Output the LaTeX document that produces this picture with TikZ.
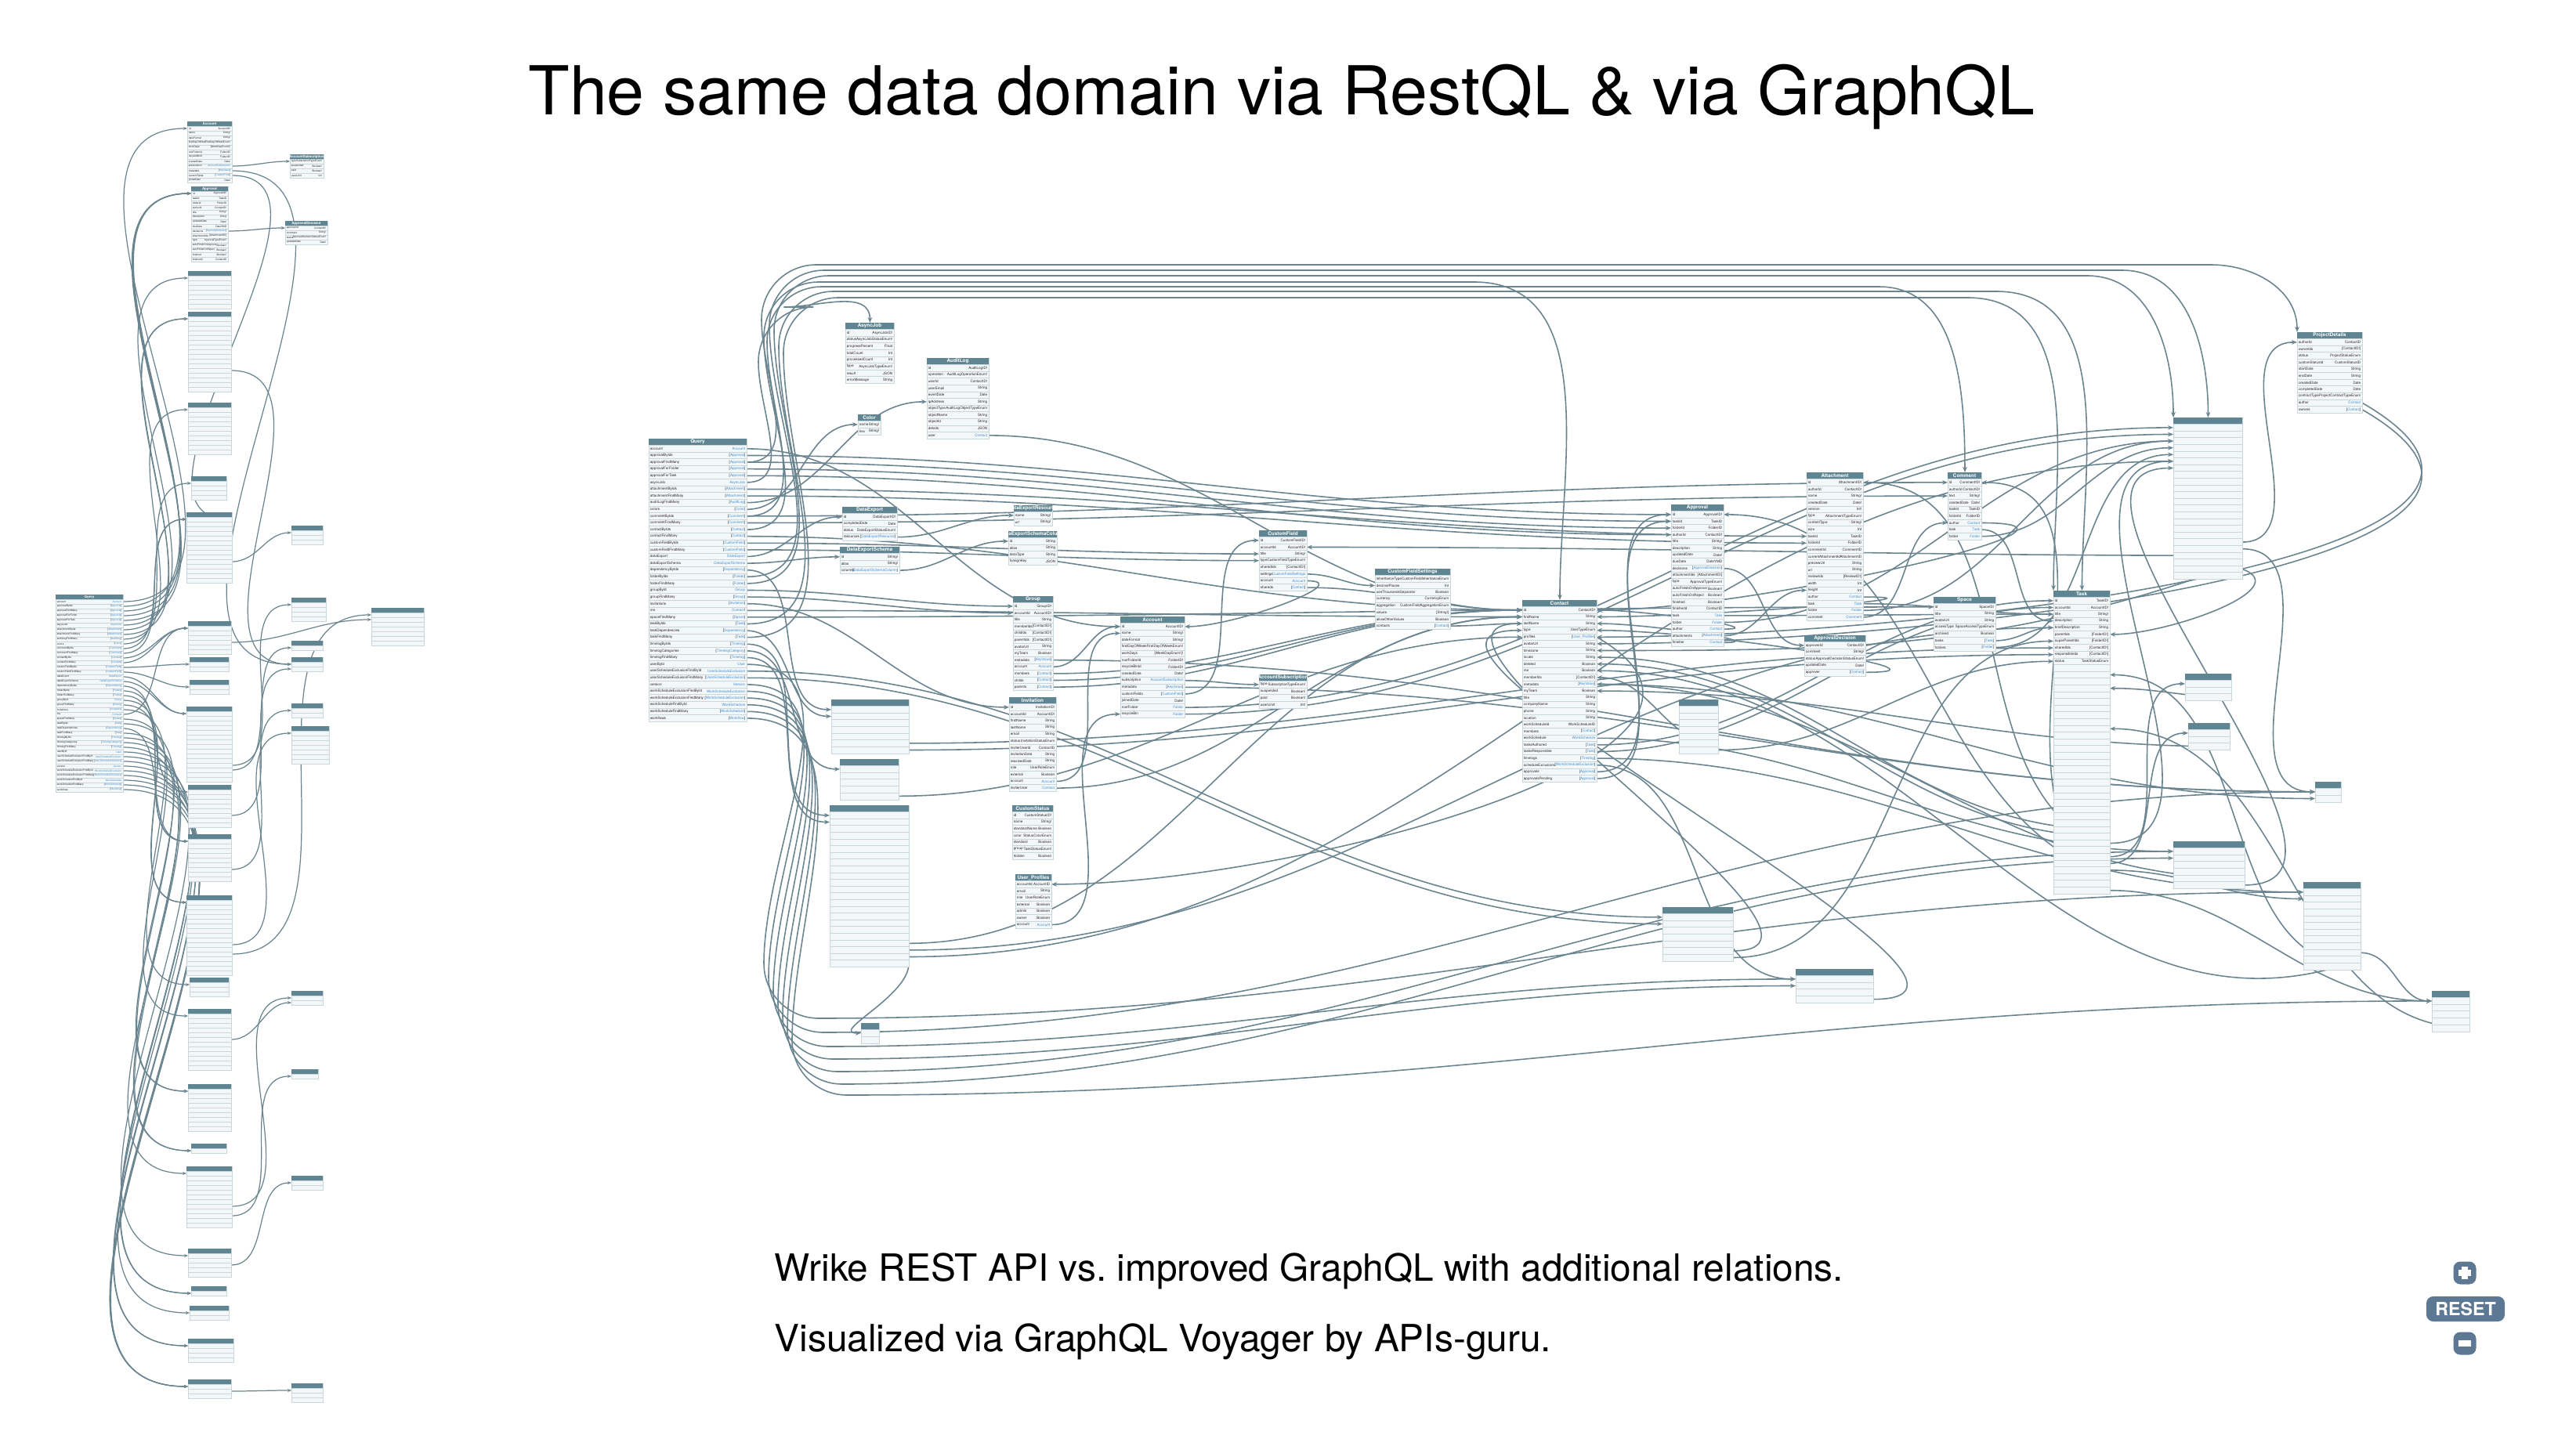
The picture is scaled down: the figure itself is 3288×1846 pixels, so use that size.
\documentclass[tikz,border=0pt]{standalone}
\usepackage{fontspec}
\setmainfont{TeX Gyre Heros}
\usetikzlibrary{calc,arrows.meta}

\definecolor{headfill}{HTML}{5F8592}
\definecolor{rowfill}{HTML}{F4F7F8}
\definecolor{rowline}{HTML}{C9D6DB}
\definecolor{edgecol}{HTML}{6A8590}
\definecolor{linkblue}{HTML}{3E8ED4}
\definecolor{btnfill}{HTML}{5D7893}

\pgfdeclarelayer{edges}
\pgfsetlayers{edges,main}

\tikzset{
  tblbox/.style={draw=rowline, fill=rowfill, line width=0.25pt, inner sep=0pt, anchor=north west},
  rowsep/.style={draw=rowline, line width=0.2pt},
  headtxt/.style={inner sep=0pt, text=white, font=\fontsize{\hs}{\hs}\selectfont\bfseries},
  fld/.style={inner sep=0pt, text=black!85, font=\fontsize{\fs}{\fs}\selectfont},
  rel/.style={draw=edgecol, line width=0.45pt, -{Stealth[length=2pt,width=1.6pt]}},
  relsm/.style={draw=edgecol, line width=0.35pt, -{Stealth[length=1.4pt,width=1.1pt]}},
  bigtitle/.style={font=\fontsize{24.5}{28}\selectfont},
  note/.style={font=\fontsize{13.6}{16}\selectfont, anchor=west, inner sep=0pt},
  btn/.style={fill=btnfill, rounded corners=2.5pt, inner sep=0pt},
  btnmark/.style={draw=white, line width=2.2pt},
}

\newcommand\lk[1]{\textcolor{linkblue}{#1}}

% frame of a type box: name, x, y, width, rows, title
\newcommand\dbframe[6]{%
  \pgfmathsetmacro\tbh{(#5+1)*\rh}
  \node[tblbox, minimum width=#4*0.01cm, minimum height=\tbh*0.01cm] (#1) at (#2,#3) {};
  \fill[headfill] (#1.north west) rectangle ++(#4,\rh);
  \node[headtxt] at ($(#1.north west)+(#4/2,\rh/2)$) {#6};
  \foreach \i in {1,...,#5} {
    \draw[rowsep] ($(#1.north west)+(0,\i*\rh)$) -- ++(#4,0);
    \coordinate (#1-e\i) at ($(#1.north west)+(#4,\i*\rh+\rh/2)$);
    \coordinate (#1-w\i) at ($(#1.north west)+(0,\i*\rh+\rh/2)$);
  }
}
% type box with fields
\newcommand\dbtable[7]{%
  \dbframe{#1}{#2}{#3}{#4}{#5}{#6}
  \expandafter\def\expandafter\fieldlist\expandafter{#7}
  \foreach \fa/\ty [count=\i] in \fieldlist {
    \node[fld, anchor=west] at ($(#1.north west)+(1.2,\i*\rh+\rh/2)$) {\fa};
    \node[fld, anchor=east] at ($(#1.north west)+(#4-1.2,\i*\rh+\rh/2)$) {\ty};
  }
}
% edge that climbs to the top corridor
\newcommand\overtop[4]{%
  \coordinate (drop) at ($(#2)+(-110,0)$);
  \draw[rel] (#1) to[out=0,in=-90] (#4,#3+70) to[out=90,in=180] (#4+70,#3) -- (drop |- 0,#3) to[out=0,in=90] (#2);
}
% edge that drops to the bottom corridor
\newcommand\underbot[4]{%
  \draw[rel] (#1) to[out=0,in=90] (#4,#3-70) to[out=-90,in=180] (#4+70,#3) to[out=0,in=180] (#2);
}

\newcommand\querylist{account/\lk{Account},
approvalByIds/[\lk{Approval}],
approvalFindMany/[\lk{Approval}],
approvalForFolder/[\lk{Approval}],
approvalForTask/[\lk{Approval}],
asyncJob/\lk{AsyncJob},
attachmentByIds/[\lk{Attachment}],
attachmentFindMany/[\lk{Attachment}],
auditLogFindMany/[\lk{AuditLog}],
colors/[\lk{Color}],
commentByIds/[\lk{Comment}],
commentFindMany/[\lk{Comment}],
contactByIds/[\lk{Contact}],
contactFindMany/[\lk{Contact}],
customFieldByIds/[\lk{CustomField}],
customFieldFindMany/[\lk{CustomField}],
dataExport/\lk{DataExport},
dataExportSchema/\lk{DataExportSchema},
dependencyByIds/[\lk{Dependency}],
folderByIds/[\lk{Folder}],
folderFindMany/[\lk{Folder}],
groupById/\lk{Group},
groupFindMany/[\lk{Group}],
invitations/[\lk{Invitation}],
me/\lk{Contact}!,
spaceFindMany/[\lk{Space}],
taskByIds/[\lk{Task}],
taskDependencies/[\lk{Dependency}],
taskFindMany/[\lk{Task}],
timelogByIds/[\lk{Timelog}],
timelogCategories/[\lk{TimelogCategory}],
timelogFindMany/[\lk{Timelog}],
userById/\lk{User},
userScheduleExclusionFindById/\lk{UserScheduleExclusion},
userScheduleExclusionFindMany/[\lk{UserScheduleExclusion}],
version/\lk{Version},
workScheduleExclusionFindById/\lk{WorkScheduleExclusion},
workScheduleExclusionFindMany/[\lk{WorkScheduleExclusion}],
workScheduleFindById/\lk{WorkSchedule},
workScheduleFindMany/[\lk{WorkSchedule}],
workflows/[\lk{Workflow}]}

\begin{document}
\begin{tikzpicture}[x=0.01cm,y=-0.01cm]
\useasboundingbox (0,0) rectangle (3288,1846);

\node[bigtitle] (title) at (1636,124) {The same data domain via RestQL \& via GraphQL};
\node[note] (note1) at (988,1623) {Wrike REST API vs.\ improved GraphQL with additional relations.};
\node[note] (note2) at (988,1713) {Visualized via GraphQL Voyager by APIs-guru.};

% zoom controls
\node[btn, minimum width=0.29cm, minimum height=0.29cm] (zoomin) at (3146,1625) {};
\draw[btnmark] ($(zoomin.center)+(-8,0)$) -- ($(zoomin.center)+(8,0)$);
\draw[btnmark] ($(zoomin.center)+(0,-8)$) -- ($(zoomin.center)+(0,8)$);
\node[btn, minimum width=1.0cm, minimum height=0.32cm, text=white, font=\fontsize{6.6}{7}\selectfont\bfseries] (reset) at (3147,1671) {RESET};
\node[btn, minimum width=0.29cm, minimum height=0.29cm] (zoomout) at (3146,1715) {};
\draw[btnmark] ($(zoomout.center)+(-8,0)$) -- ($(zoomout.center)+(8,0)$);

%% GraphQL side
\def\rh{8.6}\def\fs{1.3}\def\hs{1.8}
\dbtable{q}{828}{560}{125}{41}{Query}{\querylist}
\dbtable{ajob}{1079}{412}{62}{8}{AsyncJob}{id/AsyncJobID!,status/AsyncJobStatusEnum!,progressPercent/Float,totalCount/Int,processedCount/Int,type/AsyncJobTypeEnum!,result/JSON,errorMessage/String}
\dbtable{alog}{1183}{457}{79}{11}{AuditLog}{id/AuditLogID!,operation/AuditLogOperationEnum!,userId/ContactID!,userEmail/String,eventDate/Date,ipAddress/String,objectType/AuditLogObjectTypeEnum,objectName/String,objectId/String,details/JSON,user/\lk{Contact}}
\dbtable{color}{1095}{529}{29}{2}{Color}{name/String!,hex/String!}
\dbtable{dexp}{1075}{647}{70}{4}{DataExport}{id/DataExportID!,completedDate/Date,status/DataExportStatusEnum!,resources/[\lk{DataExportResource}]}
\dbtable{dexs}{1072}{698}{76}{3}{DataExportSchema}{id/String!,alias/String!,columns/[\lk{DataExportSchemaColumn}]}
\dbtable{dres}{1294}{645}{49}{2}{DataExportResource}{name/String!,url/String!}
\dbtable{dcol}{1287}{678}{62}{4}{DataExportSchemaColumn}{id/String,alias/String,dataType/String,foreignKey/JSON}
\dbtable{grp}{1293}{761}{51}{13}{Group}{id/GroupID!,accountId/AccountID!,title/String,memberIds/[ContactID!],childIds/[ContactID!],parentIds/[ContactID!],avatarUrl/String,myTeam/Boolean,metadata/[\lk{KeyValue}],account/\lk{Account},members/[\lk{Contact}],childs/[\lk{Contact}],parents/[\lk{Contact}]}
\dbtable{inv}{1288}{890}{60}{13}{Invitation}{id/InvitationID!,accountId/AccountID!,firstName/String,lastName/String,email/String,status/InvitationStatusEnum,inviterUserId/ContactID,invitationDate/String,resolvedDate/String,role/UserRoleEnum,external/Boolean,account/\lk{Account},inviterUser/\lk{Contact}}
\dbtable{cst}{1292}{1028}{52}{7}{CustomStatus}{id/CustomStatusID!,name/String!,standardName/Boolean,color/StatusColorEnum,standard/Boolean,group/TaskStatusEnum!,hidden/Boolean}
\dbtable{uprof}{1296}{1116}{46}{7}{User\_Profiles}{accountId/AccountID,email/String,role/UserRoleEnum,external/Boolean,admin/Boolean,owner/Boolean,account/\lk{Account}}
\dbtable{acc}{1430}{787}{82}{14}{Account}{id/AccountID!,name/String!,dateFormat/String!,firstDayOfWeek/FirstDayOfWeekEnum!,workDays/[WeekDayEnum!]!,rootFolderId/FolderID!,recycleBinId/FolderID!,createdDate/Date!,subscription/\lk{AccountSubscription},metadata/[\lk{KeyValue}],customFields/[\lk{CustomField}],joinedDate/Date!,rootFolder/\lk{Folder},recycleBin/\lk{Folder}}
\dbtable{cf}{1607}{677}{61}{8}{CustomField}{id/CustomFieldID!,accountId/AccountID!,title/String!,type/CustomFieldTypeEnum!,sharedIds/[ContactID!],settings/\lk{CustomFieldSettings},account/\lk{Account},shareds/[\lk{Contact}]}
\dbtable{asub}{1607}{861}{61}{4}{AccountSubscription}{type/SubscriptionTypeEnum!,suspended/Boolean!,paid/Boolean!,userLimit/Int!}
\dbtable{cfs}{1755}{726}{96}{8}{CustomFieldSettings}{inheritanceType/CustomFieldInheritanceEnum,decimalPlaces/Int,useThousandsSeparator/Boolean,currency/CurrencyEnum,aggregation/CustomFieldAggregationEnum,values/[String!],allowOtherValues/Boolean,contacts/[\lk{Contact}]}
\dbtable{ct}{1943}{766}{95}{26}{Contact}{id/ContactID!,firstName/String,lastName/String,type/UserTypeEnum,profiles/[\lk{User\_Profiles}],avatarUrl/String,timezone/String,locale/String,deleted/Boolean,me/Boolean,memberIds/[ContactID!],metadata/[\lk{KeyValue}],myTeam/Boolean,title/String,companyName/String,phone/String,location/String,workScheduleId/WorkScheduleID,members/[\lk{Contact}],workSchedule/\lk{WorkSchedule},tasksAuthored/[\lk{Task}],tasksResponsible/[\lk{Task}],timelogs/[\lk{Timelog}],scheduleExclusions/[\lk{WorkScheduleExclusion}],approvals/[\lk{Approval}],approvalsPending/[\lk{Approval}]}
\dbtable{appr}{2133}{644}{67}{20}{Approval}{id/ApprovalID!,taskId/TaskID,folderId/FolderID,authorId/ContactID!,title/String!,description/String,updatedDate/Date!,dueDate/DateYMD,decisions/[\lk{ApprovalDecision}],attachmentIds/[AttachmentID!],type/ApprovalTypeEnum!,autoFinishOnApprove/Boolean!,autoFinishOnReject/Boolean!,finished/Boolean!,finisherId/ContactID,task/\lk{Task},folder/\lk{Folder},author/\lk{Contact},attachments/[\lk{Attachment}],finisher/\lk{Contact}}
\dbtable{att}{2306}{603}{72}{21}{Attachment}{id/AttachmentID!,authorId/ContactID!,name/String!,createdDate/Date!,version/Int!,type/AttachmentTypeEnum!,contentType/String!,size/Int,taskId/TaskID,folderId/FolderID,commentId/CommentID,currentAttachmentId/AttachmentID,previewUrl/String,url/String,reviewIds/[ReviewID!],width/Int,height/Int,author/\lk{Contact},task/\lk{Task},folder/\lk{Folder},comment/\lk{Comment}}
\dbtable{adec}{2303}{811}{78}{5}{ApprovalDecision}{approverId/ContactID!,comment/String!,status/ApprovalDecisionStatusEnum!,updatedDate/Date!,approver/[\lk{Contact}]}
\dbtable{cmt}{2486}{603}{43}{9}{Comment}{id/CommentID!,authorId/ContactID!,text/String!,createdDate/Date!,taskId/TaskID,folderId/FolderID,author/\lk{Contact},task/\lk{Task},folder/\lk{Folder}}
\dbtable{spc}{2468}{762}{79}{7}{Space}{id/SpaceID!,title/String,avatarUrl/String,accessType/SpaceAccessTypeEnum,archived/Boolean,tasks/[\lk{Task}],folders/[\lk{Folder}]}
\dbtable{task}{2621}{754}{72}{44}{Task}{id/TaskID!,accountId/AccountID!,title/String!,description/String,briefDescription/String,parentIds/[FolderID!],superParentIds/[FolderID!],sharedIds/[ContactID!],responsibleIds/[ContactID!],status/TaskStatusEnum}
\dbtable{proj}{2932}{424}{83}{11}{ProjectDetails}{authorId/ContactID,ownerIds/[ContactID!],status/ProjectStatusEnum,customStatusId/CustomStatusID,startDate/String,endDate/String,createdDate/Date,completedDate/Date,contractType/ProjectContractTypeEnum,author/\lk{Contact},owners/[\lk{Contact}]}
\dbframe{tA}{1061}{893}{99}{7}{}
\dbframe{tB}{1072}{969}{75}{5}{}
\dbframe{tC}{1059}{1028}{101}{23}{}
\dbframe{tD}{1099}{1306}{23}{2}{}
\dbframe{tE}{2143}{893}{50}{7}{}
\dbframe{tF}{2122}{1158}{90}{7}{}
\dbframe{tG}{2292}{1237}{99}{4}{}
\dbframe{fold}{2774}{533}{88}{23}{}
\dbframe{tH}{2774}{1074}{91}{6}{}
\dbframe{tI}{2789}{860}{59}{3}{}
\dbframe{tJ}{2793}{923}{53}{3}{}
\dbframe{tK}{2955}{998}{33}{2}{}
\dbframe{tL}{2940}{1126}{73}{12}{}
\dbframe{tM}{3104}{1265}{48}{5}{}

%% REST side
\def\rh{6}\def\fs{0.9}\def\hs{1.25}
\dbtable{lq}{71}{759}{86}{41}{Query}{\querylist}
\dbtable{la1}{239}{155}{57}{12}{Account}{id/AccountID!,name/String!,dateFormat/String!,firstDayOfWeek/FirstDayOfWeekEnum!,workDays/[WeekDayEnum!]!,rootFolderId/FolderID!,recycleBinId/FolderID!,createdDate/Date!,subscription/\lk{AccountSubscription},metadata/[\lk{KeyValue}],customFields/[\lk{CustomField}],joinedDate/Date!}
\dbtable{la2}{244}{238}{47}{15}{Approval}{id/ApprovalID!,taskId/TaskID,folderId/FolderID,authorId/ContactID!,title/String!,description/String,updatedDate/Date!,dueDate/DateYMD,decisions/[\lk{ApprovalDecision}],attachmentIds/[AttachmentID!],type/ApprovalTypeEnum!,autoFinishOnApprove/Boolean!,autoFinishOnReject/Boolean!,finished/Boolean!,finisherId/ContactID}
\dbframe{la3}{240}{346}{55}{7}{}
\dbframe{la4}{240}{398}{55}{16}{}
\dbframe{la5}{240}{514}{55}{10}{}
\dbframe{la6}{244}{608}{45}{4}{}
\dbframe{la7}{238}{654}{58}{14}{}
\dbframe{la8}{240}{793}{55}{6}{}
\dbframe{la9}{242}{839}{50}{2}{}
\dbframe{la10}{242}{868}{50}{2}{}
\dbframe{la11}{238}{902}{58}{15}{}
\dbframe{la12}{240}{1002}{55}{8}{}
\dbframe{la13}{240}{1065}{55}{9}{}
\dbframe{la14}{238}{1143}{58}{16}{}
\dbframe{la15}{242}{1248}{50}{3}{}
\dbframe{la16}{240}{1288}{55}{12}{}
\dbframe{la17}{240}{1384}{55}{9}{}
\dbframe{la18}{244}{1460}{45}{1}{}
\dbframe{la19}{238}{1489}{58}{12}{}
\dbframe{la20}{240}{1594}{55}{5}{}
\dbframe{la21}{244}{1642}{45}{1}{}
\dbframe{la22}{242}{1667}{50}{2}{}
\dbframe{la23}{240}{1709}{58}{4}{}
\dbframe{la24}{240}{1761}{55}{3}{}
\dbtable{b1}{370}{197}{43}{4}{AccountSubscription}{type/SubscriptionTypeEnum!,suspended/Boolean!,paid/Boolean!,userLimit/Int!}
\dbtable{b2}{364}{282}{54}{4}{ApprovalDecision}{approverId/ContactID!,comment/String!,status/ApprovalDecisionStatusEnum!,updatedDate/Date!}
\dbframe{b3}{372}{671}{40}{3}{}
\dbframe{b4}{372}{763}{44}{4}{}
\dbframe{b5}{372}{818}{40}{1}{}
\dbframe{b6}{372}{839}{40}{2}{}
\dbframe{b7}{372}{898}{40}{2}{}
\dbframe{b8}{372}{927}{48}{7}{}
\dbframe{b9}{372}{1265}{40}{2}{}
\dbframe{b10}{372}{1365}{34}{1}{}
\dbframe{b11}{372}{1501}{40}{2}{}
\dbframe{b12}{372}{1766}{40}{3}{}
\dbframe{b13}{474}{776}{67}{7}{}

\begin{pgfonlayer}{edges}
\fill[white] (0,0) rectangle (3288,1846);
% REST: query to types
\foreach \j [count=\i] in {1,2,2,2,2,3,4,4,5,6,7,7,8,8,9,10,11,11,12,13,13,14,14,15,8,16,17,13,17,18,19,18,20,21,21,22,23,23,24,24,24}
  \draw[relsm] (lq-e\i) to[out=0,in=180] (la\j-w1);
% REST: nested types
\foreach \s/\d in {la1-e9/b1-w1,la1-e10/b6-w1,la1-e11/la7-e1,la2-e9/b2-w1,la7-e10/b3-w1,la11-e12/b4-w1,la11-e13/b5-w1,
  la12-e6/b6-w2,la13-e7/b7-w1,la14-e10/b8-w1,la14-e12/b13-w1,la19-e8/b9-w1,la19-e10/b10-w1,la20-e3/b11-w1,
  la24-e2/b12-w1,la8-e4/b13-w2,la16-e6/b9-w2,la4-e12/b6-w1}
  \draw[relsm] (\s) to[out=0,in=180] (\d);

% GraphQL: query to types
\foreach \s/\d in {q-e1/acc-w1,q-e2/appr-w1,q-e3/appr-w2,q-e4/appr-w3,q-e5/appr-w4,q-e7/att-w9,
  q-e8/att-w10,q-e9/alog-w6,q-e10/color-w1,q-e11/cmt-w1,q-e12/cmt-w3,q-e14/ct-w1,q-e15/cf-w3,q-e16/cf-w4,
  q-e17/dexp-w1,q-e18/dexs-w1,q-e19/tA-w1,q-e22/grp-w1,q-e23/grp-w2,q-e24/inv-w1,q-e25/ct-w2,q-e26/spc-w1,
  q-e28/tA-w2,q-e30/tC-w1,q-e31/tB-w1,q-e32/tC-w2,q-e34/tF-w1,q-e35/tF-w2}
  \draw[rel] (\s) to[out=0,in=180] (\d);
\overtop{q-e13}{ct.north}{360}{975}
\overtop{q-e20}{fold.north}{345}{982}
\overtop{q-e21}{fold.north west}{352}{988}
\overtop{q-e27}{task.north}{372}{994}
\overtop{q-e29}{task.north west}{380}{1000}
\overtop{q-e6}{ajob.north}{392}{968}
\overtop{q-e3}{proj.north west}{338}{972}
\overtop{q-e11}{cmt.north}{366}{979}
\underbot{q-e33}{tL-w1}{1300}{975}
\underbot{q-e36}{tK-w1}{1318}{981}
\underbot{q-e37}{tG-w1}{1336}{987}
\underbot{q-e38}{tG-w2}{1352}{993}
\underbot{q-e39}{tH-w1}{1368}{999}
\underbot{q-e40}{tH-w2}{1384}{1005}
\underbot{q-e41}{tM-w1}{1398}{1011}

% GraphQL: relations between types
\foreach \s/\d/\o/\n in {alog-e11/ct-w1/0/180,dexp-e4/dres-w1/0/180,dexs-e3/dcol-w1/0/180,
  grp-e9/tK-w1/0/180,grp-e10/acc-w1/0/180,grp-e11/ct-w1/0/180,grp-e12/ct-w1/0/180,grp-e13/ct-w1/0/180,
  inv-e12/acc-w2/0/180,inv-e13/ct-w2/0/180,uprof-e7/acc-w14/0/180,
  acc-e9/asub-w1/0/180,acc-e10/tK-w1/0/180,acc-e11/cf-w1/0/180,acc-e13/fold-w1/0/180,acc-e14/fold-w2/0/180,
  cf-e6/cfs-w2/0/180,cf-e7/acc-e1/0/0,cf-e8/ct-w1/0/180,cfs-e8/ct-w3/0/180,
  ct-e5/uprof-e1/-30/0,ct-e12/tK-w2/0/180,ct-e20/tH-w1/0/180,ct-e21/task-w1/0/180,ct-e22/task-w2/0/180,
  ct-e23/tL-w1/0/180,ct-e24/tG-w1/0/180,ct-e25/appr-w1/0/180,ct-e26/appr-w2/0/180,
  appr-e9/adec-w1/0/180,appr-e16/task-w3/0/180,appr-e17/fold-w3/0/180,appr-e18/ct-e1/0/0,
  appr-e19/att-w17/0/180,appr-e20/ct-e3/0/0,
  att-e18/ct-e2/0/0,att-e19/task-w3/0/180,att-e20/fold-w3/0/180,att-e21/cmt-w7/0/180,adec-e5/ct-e4/0/0,
  cmt-e7/ct-e1/0/0,cmt-e8/task-w4/0/180,cmt-e9/fold-w4/0/180,spc-e6/task-w5/0/180,spc-e7/fold-w5/0/180,
  proj-e10/ct-e5/-30/0,proj-e11/ct-e6/-30/0,
  fold-e18/proj-w1/0/180,fold-e19/tK-w1/0/180,fold-e20/cf-e2/180/0,fold-e21/ct-e7/200/0,fold-e22/task-e6/-20/0,
  task-e35/ct-e8/180/0,task-e36/ct-e9/180/0,task-e37/fold-w6/0/180,task-e38/att-e1/160/0,task-e39/tI-w1/0/180,
  task-e40/tJ-w1/0/180,task-e41/tL-w2/0/180,task-e42/appr-e1/160/0,task-e43/cmt-e1/150/0,task-e44/tM-w1/0/180,
  tL-e10/tM-w1/0/180,tL-e11/ct-e10/200/0,tL-e12/task-e12/180/0,
  tC-e20/ct-w2/0/180,tC-e21/task-w5/0/180,tC-e22/fold-w6/0/180,tC-e23/tD-w1/-90/180,
  tF-e6/ct-w3/0/180,tF-e7/task-w7/0/180,tG-e4/ct-w4/0/180,tA-e6/task-w8/0/180,tA-e7/task-w9/0/180,
  tB-e5/ct-w5/0/180,tE-e6/ct-e11/180/0,tE-e7/task-w10/0/180,tH-e5/ct-e12/180/0,tH-e6/fold-w7/0/180,
  tI-e3/task-e14/180/0,tJ-e3/ct-e13/180/0,tM-e5/task-e20/180/0}
  \draw[rel] (\s) to[out=\o,in=\n] (\d);
\end{pgfonlayer}
\end{tikzpicture}
\end{document}
